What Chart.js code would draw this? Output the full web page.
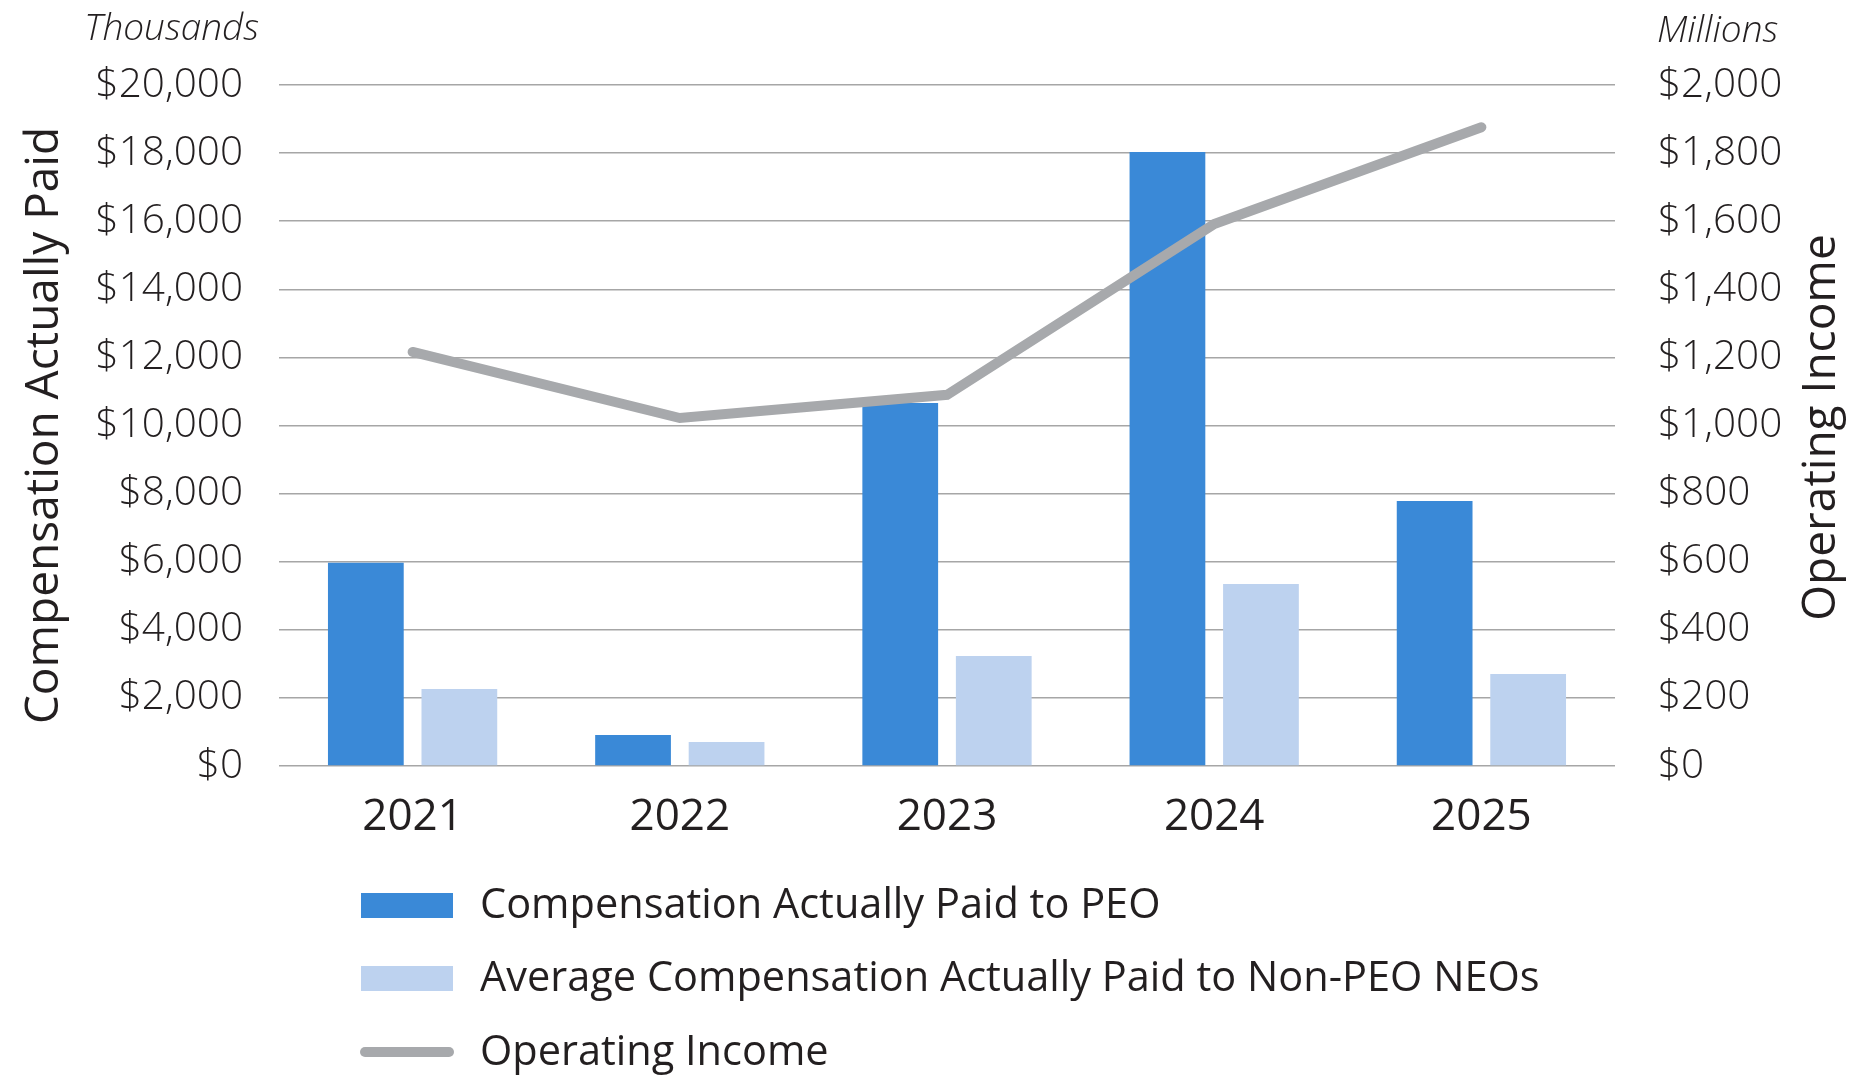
<!DOCTYPE html>
<html>
<head>
<meta charset="utf-8">
<script src="https://cdn.jsdelivr.net/npm/chart.js@4.4.1/dist/chart.umd.min.js"></script>
<style>
  html, body { margin: 0; padding: 0; background: #ffffff; }
  #wrap { width: 1857px; height: 1090px; position: relative; }
</style>
</head>
<body>
<div id="wrap"><canvas id="capChart" width="1857" height="1090"></canvas></div>
<script>
// chart data
const years = ["2021", "2022", "2023", "2024", "2025"];
const peoCap = [5970, 910, 10660, 18030, 7780]; // thousands
const neoCap = [2260, 705, 3230, 5345, 2700]; // thousands
const operatingIncome = [1216, 1022, 1090, 1592, 1876]; // millions

const leftTicks = { max: 20000, step: 2000 };
const rightTicks = { max: 2000, step: 200 };

const FONT = "'Open Sans', 'Noto Sans', sans-serif";
const TEXT = "#231f20";
const GRID = "#a6a6a6";

const dollars = (v) => "$" + Number(v).toLocaleString("en-US");

// legend drawn as a vertical list under the plot
const stackedLegend = {
  id: "stackedLegend",
  afterDraw(chart) {
    const c = chart.ctx;
    const x = chart.scales.y.right + 82;
    const rows = [905, 978, 1052];
    c.save();
    c.font = "41.5px " + FONT;
    c.textBaseline = "middle";
    chart.data.datasets.forEach((ds, i) => {
      const y = rows[i];
      if (ds.type === "line") {
        c.strokeStyle = ds.borderColor;
        c.lineWidth = 10;
        c.lineCap = "round";
        c.beginPath();
        c.moveTo(x + 4, y);
        c.lineTo(x + 88, y);
        c.stroke();
      } else {
        c.fillStyle = ds.backgroundColor;
        c.fillRect(x, y - 12, 92, 25);
      }
      c.fillStyle = TEXT;
      c.fillText(ds.label, x + 119, y + 1);
    });
    c.restore();
  },
};

// unit captions above both value axes, plus the right axis title (reads bottom to top)
const axisCaptions = {
  id: "axisCaptions",
  afterDraw(chart) {
    const c = chart.ctx;
    const area = chart.chartArea;
    c.save();
    c.font = "italic 300 37px " + FONT;
    c.fillStyle = TEXT;
    c.textBaseline = "alphabetic";
    c.textAlign = "right";
    c.fillText("Thousands", chart.scales.y.right - 20, 40);
    c.textAlign = "left";
    c.fillText("Millions", chart.scales.y1.left + 42, 42);

    c.translate(1822, (area.top + area.bottom) / 2 + 2);
    c.rotate(-Math.PI / 2);
    c.font = "46px " + FONT;
    c.textAlign = "center";
    c.textBaseline = "middle";
    c.fillText("Operating Income", 0, 0);
    c.restore();
  },
};

const ctx = document.getElementById("capChart").getContext("2d");

const capChart = new Chart(ctx, {
  type: "bar",
  data: {
    labels: years,
    datasets: [
      {
        label: "Compensation Actually Paid to PEO",
        data: peoCap,
        backgroundColor: "#3a89d7",
        yAxisID: "y",
        order: 1,
      },
      {
        label: "Average Compensation Actually Paid to Non-PEO NEOs",
        data: neoCap,
        backgroundColor: "#bdd2ef",
        yAxisID: "y",
        order: 1,
      },
      {
        type: "line",
        label: "Operating Income",
        data: operatingIncome,
        borderColor: "#a7a9ac",
        backgroundColor: "#a7a9ac",
        borderWidth: 10,
        borderCapStyle: "round",
        borderJoinStyle: "miter",
        pointRadius: 0,
        tension: 0,
        yAxisID: "y1",
        order: 0,
      },
    ],
  },
  options: {
    responsive: false,
    animation: false,
    devicePixelRatio: 1,
    layout: {
      padding: { left: 0, right: 0, top: 85, bottom: 234 },
    },
    datasets: {
      bar: { categoryPercentage: 0.7, barPercentage: 0.81 },
    },
    plugins: {
      legend: { display: false },
      tooltip: { enabled: false },
    },
    scales: {
      x: {
        grid: { display: false },
        border: { display: false },
        ticks: {
          color: TEXT,
          padding: 17,
          font: { family: FONT, size: 44, weight: 500 },
        },
        afterFit(scale) {
          scale.height = 90;
        },
      },
      y: {
        position: "left",
        min: 0,
        max: leftTicks.max,
        border: { display: false },
        grid: { color: GRID, lineWidth: 1.5, drawTicks: false },
        ticks: {
          stepSize: leftTicks.step,
          padding: 36,
          color: TEXT,
          font: { family: FONT, size: 40.5, weight: 300 },
          callback: dollars,
        },
        title: {
          display: true,
          text: "Compensation Actually Paid",
          color: TEXT,
          font: { family: FONT, size: 46 },
          padding: { top: 17, bottom: 0 },
        },
        afterFit(scale) {
          scale.width = 279;
        },
      },
      y1: {
        position: "right",
        min: 0,
        max: rightTicks.max,
        border: { display: false },
        grid: { display: false, drawTicks: false },
        ticks: {
          stepSize: rightTicks.step,
          padding: 43,
          color: TEXT,
          font: { family: FONT, size: 40.5, weight: 300 },
          callback: dollars,
        },
        afterFit(scale) {
          scale.width = 242;
        },
      },
    },
  },
  plugins: [stackedLegend, axisCaptions],
});
</script>
</body>
</html>
